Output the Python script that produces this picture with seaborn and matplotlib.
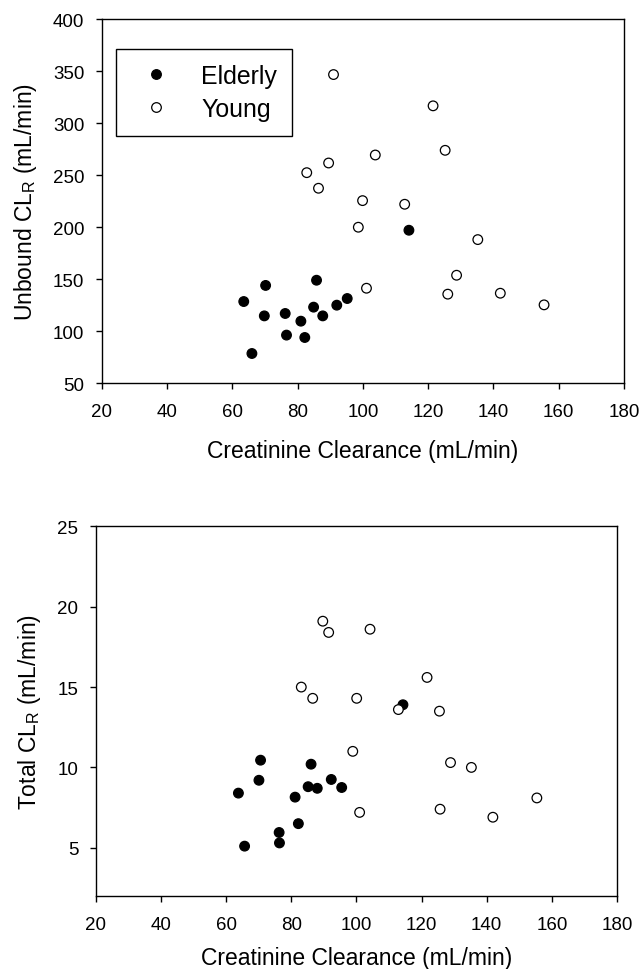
"""Unbound and total renal clearance vs creatinine clearance, elderly vs young."""

import matplotlib
matplotlib.use('Agg')
import matplotlib.pyplot as plt
import seaborn as sns
import pandas as pd

# --- data ---
# top panel: unbound CL_R
elderly_crcl_top = [63.5, 66.0, 69.8, 70.2, 76.2, 76.6, 81.0, 82.2, 84.9, 85.8, 87.7, 92.0, 95.2, 114.1]
elderly_unbound = [128.5, 78.5, 114.7, 144.0, 117.0, 96.2, 109.6, 93.9, 123.1, 149.0, 114.7, 125.0, 131.4, 197.1]
young_crcl_top = [82.8, 86.4, 89.5, 91.0, 98.6, 99.9, 101.1, 103.8, 112.8, 121.5, 125.2, 126.0, 128.7, 135.2, 142.1, 155.5]
young_unbound = [252.5, 237.5, 261.8, 346.9, 200.0, 225.6, 141.3, 269.5, 222.1, 316.8, 274.0, 135.6, 153.8, 188.1, 136.5, 125.3]

# bottom panel: total CL_R
elderly_crcl_bot = [63.8, 65.7, 70.1, 70.6, 76.3, 76.4, 81.2, 82.2, 85.2, 86.1, 88.0, 92.3, 95.5, 114.3]
elderly_total = [8.4, 5.1, 9.2, 10.45, 5.95, 5.3, 8.15, 6.5, 8.8, 10.2, 8.7, 9.25, 8.75, 13.9]
young_crcl_bot = [83.1, 86.6, 89.7, 91.5, 98.9, 100.1, 101.0, 104.2, 112.9, 121.7, 125.5, 125.7, 128.9, 135.3, 141.9, 155.4]
young_total = [15.0, 14.3, 19.1, 18.4, 11.0, 14.3, 7.2, 18.6, 13.6, 15.6, 13.5, 7.4, 10.3, 10.0, 6.9, 8.1]

groups = ['Elderly', 'Young']
x_ticks = [20, 40, 60, 80, 100, 120, 140, 160, 180]


def make_frame(x_eld, y_eld, x_yng, y_yng):
    return pd.DataFrame({
        'crcl': x_eld + x_yng,
        'value': y_eld + y_yng,
        'group': ['Elderly'] * len(x_eld) + ['Young'] * len(x_yng),
    })


df_top = make_frame(elderly_crcl_top, elderly_unbound, young_crcl_top, young_unbound)
df_bot = make_frame(elderly_crcl_bot, elderly_total, young_crcl_bot, young_total)

sns.set_style('white')
plt.rcParams['font.family'] = ['Liberation Sans', 'DejaVu Sans']
plt.rcParams['axes.edgecolor'] = 'black'
plt.rcParams['axes.linewidth'] = 1.0
plt.rcParams['axes.labelcolor'] = 'black'
plt.rcParams['text.color'] = 'black'
plt.rcParams['xtick.color'] = 'black'
plt.rcParams['ytick.color'] = 'black'
plt.rcParams['xtick.labelcolor'] = 'black'
plt.rcParams['ytick.labelcolor'] = 'black'

palette = {'Elderly': 'black', 'Young': 'white'}

fig = plt.figure(figsize=(6.44, 9.70), dpi=100)
ax1 = fig.add_axes([0.158, 0.604, 0.811, 0.375])
ax2 = fig.add_axes([0.1486, 0.0753, 0.8095, 0.381])

for ax, df in [(ax1, df_top), (ax2, df_bot)]:
    sns.scatterplot(data=df, x='crcl', y='value', hue='group', hue_order=groups,
                    palette=palette, edgecolor='black', linewidth=0.9, s=48,
                    legend=(ax is ax1), ax=ax)
    ax.set_xlim(20, 180)
    ax.set_xticks(x_ticks)
    ax.tick_params(axis='both', which='major', direction='out', length=4.5,
                   width=1.0, labelsize=13.5, bottom=True, left=True,
                   labelcolor='black', color='black')
    ax.tick_params(axis='x', pad=10)
    ax.tick_params(axis='y', pad=8)
    for sp in ax.spines.values():
        sp.set_visible(True)
        sp.set_color('black')

ax1.set_xlabel('Creatinine Clearance (mL/min)', fontsize=16.5, labelpad=13.5)
ax2.set_xlabel('Creatinine Clearance (mL/min)', fontsize=16.5, labelpad=9)

ax1.set_ylim(50, 400)
ax1.set_yticks([50, 100, 150, 200, 250, 300, 350, 400])
ax1.set_ylabel(r'Unbound CL$_{\mathregular{R}}$ (mL/min)', fontsize=16.5, labelpad=10)

ax2.set_ylim(2, 25)
ax2.set_yticks([5, 10, 15, 20, 25])
ax2.set_ylabel(r'Total CL$_{\mathregular{R}}$ (mL/min)', fontsize=16.5, labelpad=10)

sns.move_legend(ax1, 'upper left', bbox_to_anchor=(0.027, 0.918), title=None,
                frameon=True, fancybox=False, shadow=False, framealpha=1,
                edgecolor='black', fontsize=17.9, borderpad=0.6,
                borderaxespad=0, labelspacing=0.35, handlelength=2.0,
                handletextpad=0.84, markerscale=1.0, labelcolor='black')
ax1.get_legend().get_frame().set_linewidth(1.0)

fig.savefig('out.png', dpi=100)
